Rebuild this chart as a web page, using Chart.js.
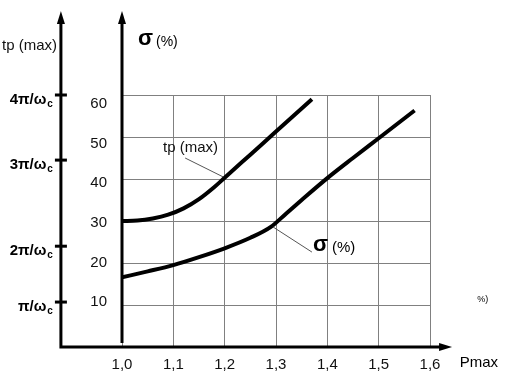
<!DOCTYPE html>
<html lang="en">
<head>
<meta charset="UTF-8">
<title>tp (max) and σ (%) vs Pmax</title>
<script src="https://cdn.jsdelivr.net/npm/chart.js"></script>
<style>
  html, body { margin: 0; padding: 0; background: #fff; }
</style>
</head>
<body>
<canvas id="chart" width="528" height="380"></canvas>
<script>
// Pmax values and the two curves
const tpX = [1.0, 1.03, 1.06, 1.09, 1.12, 1.15, 1.18, 1.2, 1.25, 1.3, 1.37];
const tpY = [30, 30.1, 30.6, 31.5, 33, 35.2, 38.1, 40.3, 45.8, 51.3, 59.0];
const sigmaX = [1.0, 1.05, 1.1, 1.15, 1.2, 1.25, 1.29, 1.32, 1.35, 1.4, 1.45, 1.5, 1.57];
const sigmaY = [16.6, 18.0, 19.5, 21.4, 23.5, 26.0, 28.6, 31.8, 35.0, 40.2, 45.0, 49.7, 56.3];

const xTicks = [1.0, 1.1, 1.2, 1.3, 1.4, 1.5, 1.6];
const yTicks = [10, 20, 30, 40, 50, 60];

// left tp(max) axis: multiples of pi/wc and where they sit on the σ scale
const tpTickLabels = ['π', '2π', '3π', '4π'];
const tpTickPos = [10.7, 24, 44.5, 60];

// leader lines for the two curve names (data units)
const tpNoteLine = [[1.123, 45.0], [1.197, 40.5]];
const sigmaNoteLine = [[1.294, 28.6], [1.370, 22.6]];
const tpNoteAt = [1.080, 47.4];
const sigmaNoteAt = [1.372, 23.6];

const FONT = "'Liberation Sans', Arial, sans-serif";

const axesPlugin = {
    id: 'axes',
    afterDraw(chart) {
        const { ctx, scales: { x, y } } = chart;
        const ax = x.getPixelForValue(1.0);      // σ axis
        const lx = x.getPixelForValue(0.881);    // tp axis
        const rx = x.getPixelForValue(1.643);    // end of Pmax arrow
        const by = y.getPixelForValue(0);
        const ty = y.getPixelForValue(80);

        ctx.save();
        ctx.strokeStyle = '#000';
        ctx.fillStyle = '#000';
        ctx.lineWidth = 3;
        ctx.lineCap = 'butt';

        // thick axes
        ctx.beginPath();
        ctx.moveTo(lx, by); ctx.lineTo(lx, ty + 10);
        ctx.moveTo(ax, by - 4); ctx.lineTo(ax, ty + 10);
        ctx.moveTo(lx - 1.5, by); ctx.lineTo(rx - 10, by);
        ctx.stroke();

        // arrow heads
        function arrowUp(px) {
            ctx.beginPath();
            ctx.moveTo(px, ty);
            ctx.lineTo(px - 4, ty + 13);
            ctx.lineTo(px + 4, ty + 13);
            ctx.closePath();
            ctx.fill();
        }
        arrowUp(lx);
        arrowUp(ax);
        ctx.beginPath();
        ctx.moveTo(rx, by);
        ctx.lineTo(rx - 13, by - 4);
        ctx.lineTo(rx - 13, by + 4);
        ctx.closePath();
        ctx.fill();

        // tp(max) ticks and labels
        tpTickPos.forEach((v, i) => {
            const py = y.getPixelForValue(v);
            ctx.lineWidth = 3;
            ctx.beginPath();
            ctx.moveTo(lx - 6, py); ctx.lineTo(lx + 6, py);
            ctx.stroke();

            const main = tpTickLabels[i] + '/ω';
            ctx.font = 'bold 15px ' + FONT;
            const wMain = ctx.measureText(main).width;
            ctx.font = 'bold 10px ' + FONT;
            const wSub = ctx.measureText('c').width;
            const sx = lx - 9 - wMain - wSub;
            ctx.textBaseline = 'alphabetic';
            ctx.textAlign = 'left';
            ctx.font = 'bold 15px ' + FONT;
            ctx.fillText(main, sx, py + 9);
            ctx.font = 'bold 10px ' + FONT;
            ctx.fillText('c', sx + wMain + 1, py + 12);
        });

        // axis titles
        ctx.textBaseline = 'middle';
        ctx.textAlign = 'left';
        ctx.font = '15px ' + FONT;
        ctx.fillStyle = '#111';
        ctx.fillText('tp (max)', 2, 46);
        ctx.fillStyle = '#000';
        ctx.font = 'bold 22px ' + FONT;
        ctx.fillText('σ', ax + 16, 39);
        ctx.font = '14px ' + FONT;
        ctx.fillText('(%)', ax + 34, 42);
        ctx.font = '15px ' + FONT;
        ctx.fillText('Pmax', x.getPixelForValue(1.658), by + 16);
        ctx.font = '9px ' + FONT;
        ctx.fillText('%)', x.getPixelForValue(1.692), y.getPixelForValue(11.2));

        // leader lines
        ctx.strokeStyle = '#555';
        ctx.lineWidth = 1;
        [tpNoteLine, sigmaNoteLine].forEach(seg => {
            ctx.beginPath();
            ctx.moveTo(x.getPixelForValue(seg[0][0]), y.getPixelForValue(seg[0][1]));
            ctx.lineTo(x.getPixelForValue(seg[1][0]), y.getPixelForValue(seg[1][1]));
            ctx.stroke();
        });

        // curve names
        ctx.fillStyle = '#111';
        ctx.font = '15px ' + FONT;
        ctx.fillText('tp (max)', x.getPixelForValue(tpNoteAt[0]), y.getPixelForValue(tpNoteAt[1]));
        const sx = x.getPixelForValue(sigmaNoteAt[0]);
        const sy = y.getPixelForValue(sigmaNoteAt[1]);
        ctx.fillStyle = '#000';
        ctx.font = 'bold 22px ' + FONT;
        ctx.fillText('σ', sx, sy - 3);
        ctx.font = '15px ' + FONT;
        ctx.fillText('(%)', sx + 19, sy);
        ctx.restore();
    }
};

function points(xs, ys) {
    return xs.map((v, i) => ({ x: v, y: ys[i] }));
}

const tickFont = { family: FONT, size: 15 };

new Chart(document.getElementById('chart').getContext('2d'), {
    type: 'line',
    data: {
        datasets: [
            {
                label: 'tp (max)',
                data: points(tpX, tpY),
                borderColor: '#000',
                borderWidth: 4,
                pointRadius: 0,
                cubicInterpolationMode: 'monotone',
                fill: false
            },
            {
                label: 'σ (%)',
                data: points(sigmaX, sigmaY),
                borderColor: '#000',
                borderWidth: 4,
                pointRadius: 0,
                cubicInterpolationMode: 'monotone',
                fill: false
            }
        ]
    },
    options: {
        responsive: false,
        animation: false,
        layout: { padding: { left: 0, top: 95, right: 98, bottom: 0 } },
        plugins: { legend: { display: false }, tooltip: { enabled: false } },
        scales: {
            x: {
                type: 'linear',
                min: 1.0,
                max: 1.6,
                afterBuildTicks: s => { s.ticks = xTicks.map(v => ({ value: v })); },
                afterFit: s => { s.height = 33; },
                grid: { color: '#808080', lineWidth: 1, drawTicks: false },
                border: { display: false },
                ticks: {
                    padding: 9,
                    color: '#111',
                    font: tickFont,
                    maxRotation: 0,
                    callback: v => v.toFixed(1).replace('.', ',')
                }
            },
            y: {
                min: 0,
                max: 60,
                afterBuildTicks: s => { s.ticks = [0].concat(yTicks).map(v => ({ value: v })); },
                afterFit: s => { s.width = 0; },
                grid: { color: '#808080', lineWidth: 1, drawTicks: false },
                border: { display: false },
                ticks: { display: false }
            },
            // labels of the σ axis, slightly off the grid as in the picture
            yl: {
                position: 'left',
                min: -1.36,
                max: 62.27,
                afterBuildTicks: s => { s.ticks = yTicks.map(v => ({ value: v })); },
                afterFit: s => { s.width = 122; },
                grid: { display: false },
                border: { display: false },
                ticks: { padding: 7, color: '#111', font: tickFont }
            }
        }
    },
    plugins: [axesPlugin]
});
</script>
</body>
</html>
